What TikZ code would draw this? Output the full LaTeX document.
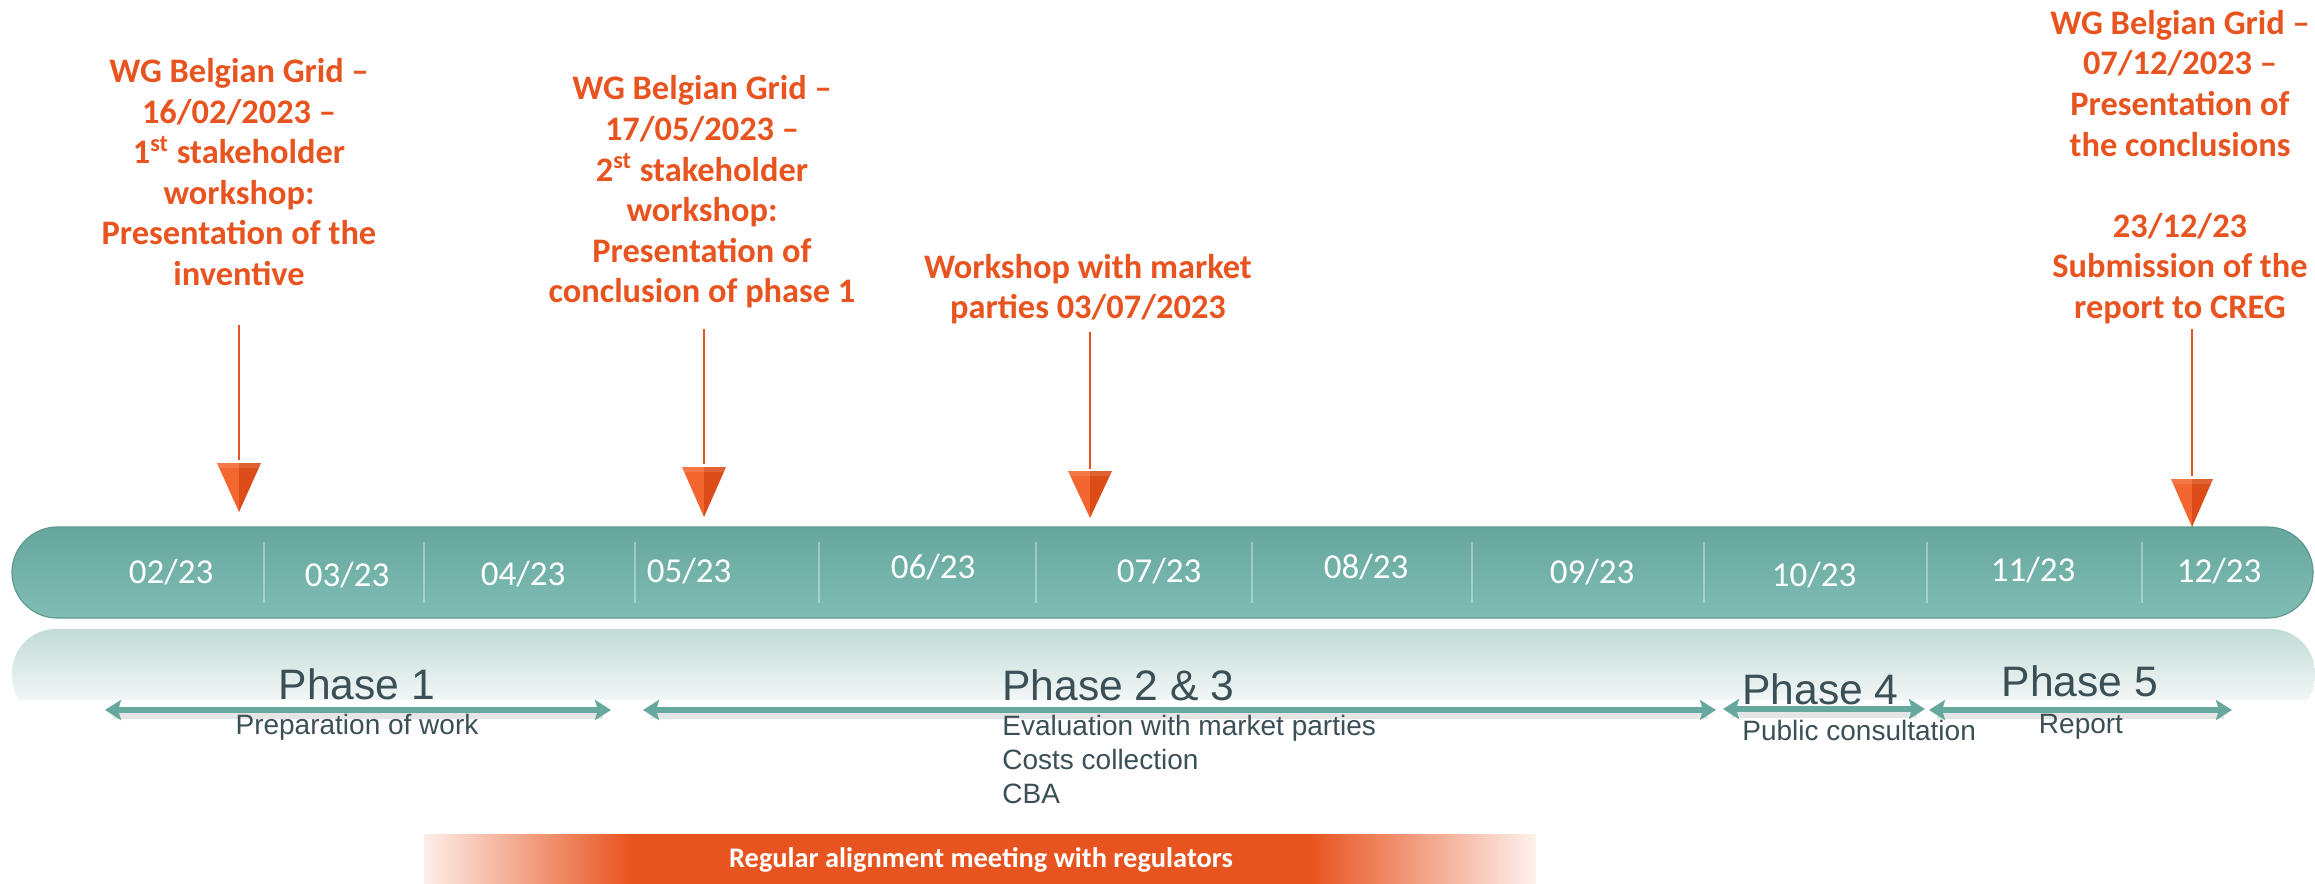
\documentclass[tikz,border=0pt]{standalone}
\usepackage{fontspec}
\setmainfont{Liberation Sans}
\newfontfamily\carlito[Ligatures=TeX]{Carlito}
\usetikzlibrary{arrows.meta}
\definecolor{orng}{HTML}{E8541F}
\definecolor{tealA}{HTML}{66A69C}
\definecolor{tealB}{HTML}{80BEB5}
\definecolor{tealEdge}{HTML}{5E9A90}
\definecolor{phasearrow}{HTML}{66A89E}
\definecolor{slate}{HTML}{3B4F57}
\definecolor{refl}{HTML}{C2DBD7}
\definecolor{triL}{HTML}{F3662F}
\definecolor{triR}{HTML}{DC4C19}
\newcommand\evtriangle[4]{% x, ytop, ytip, halfwidth
  \fill[triL] (#1-#4,#2) -- (#1,#2) -- (#1,#3) -- cycle;
  \fill[triR] (#1,#2) -- (#1+#4,#2) -- (#1,#3) -- cycle;
  \fill[white,opacity=0.12] (#1-#4,#2) -- (#1+#4,#2) -- (#1+#4-3,#2+5) -- (#1-#4+3,#2+5) -- cycle;}
\begin{document}
\begin{tikzpicture}[x=0.5pt,y=-0.5pt,
  evtext/.style={font=\carlito\bfseries\fontsize{17.2}{20.3}\selectfont, text=orng, align=center, inner sep=0pt},
  month/.style={font=\carlito\fontsize{17.5}{20}\selectfont, text=white, inner sep=0pt},
  phasetitle/.style={font=\fontsize{21.3}{25}\selectfont, text=slate, inner sep=0pt, anchor=base},
  phasesub/.style={font=\fontsize{14}{17}\selectfont, text=slate, inner sep=0pt, anchor=base},
  evline/.style={draw=orng, line width=1pt},
  phasearr/.style={draw=phasearrow, line width=3pt, {Stealth[length=8pt,width=10pt,inset=1.5pt]}-{Stealth[length=8pt,width=10pt,inset=1.5pt]}},
  phaseshadow/.style={draw=black, opacity=0.10, line width=4pt},
  divider/.style={draw=white, opacity=0.35, line width=0.6pt},
  bandtext/.style={font=\carlito\bfseries\fontsize{14.2}{16}\selectfont, text=white, inner sep=0pt}]

\useasboundingbox (0,0) rectangle (2315,884);
\fill[white] (0,0) rectangle (2315,884);

% reflection of the bar
\shade[top color=refl, bottom color=white, rounded corners=22pt] (12,720) -- (12,629) -- (2315,629) -- (2315,720) -- cycle;
\fill[white] (0,700) rectangle (2315,725);

% timeline bar
\shade[top color=tealA, bottom color=tealB, rounded corners=22.7pt] (12,527) rectangle (2313,618);
\draw[tealEdge, line width=0.6pt, rounded corners=22.7pt] (12,527) rectangle (2313,618);

% dividers
\foreach \dx in {264,424,635,819,1036,1252,1472,1704,1927,2142}
  \draw[divider] (\dx,542) -- (\dx,603);

% month labels
\node[month] (m02) at (171,572) {02/23};
\node[month] (m03) at (347,575) {03/23};
\node[month] (m04) at (523,574) {04/23};
\node[month] (m05) at (689,571) {05/23};
\node[month] (m06) at (933,567) {06/23};
\node[month] (m07) at (1159,571) {07/23};
\node[month] (m08) at (1366,567) {08/23};
\node[month] (m09) at (1592,572) {09/23};
\node[month] (m10) at (1814,575) {10/23};
\node[month] (m11) at (2033,570) {11/23};
\node[month] (m12) at (2219,571) {12/23};

% events
\node[evtext] (ev1) at (239,172) {WG Belgian Grid \textendash\\16/02/2023 \textendash\\1\textsuperscript{st} stakeholder\\workshop:\\Presentation of the\\inventive};
\node[evtext] (ev2) at (702,192) {WG Belgian Grid \textendash\\17/05/2023 \textendash\\2\textsuperscript{st} stakeholder\\workshop:\\Presentation of\\conclusion of phase 1};
\node[evtext] (ev3) at (1088,289) {Workshop with market\\parties 03/07/2023};
\node[evtext] (ev4) at (2180,167) {WG Belgian Grid \textendash\\07/12/2023 \textendash\\Presentation of\\the conclusions\\~\\23/12/23\\Submission of the\\report to CREG};

\coordinate (s1) at (239,325); \coordinate (t1) at (239,460);
\coordinate (s2) at (704,329); \coordinate (t2) at (704,464);
\coordinate (s3) at (1090,332); \coordinate (t3) at (1090,469);
\coordinate (s4) at (2192,329); \coordinate (t4) at (2192,476);
\draw[evline] (s1) -- (t1);
\draw[evline] (s2) -- (t2);
\draw[evline] (s3) -- (t3);
\draw[evline] (s4) -- (t4);
\evtriangle{239}{463}{512}{22}
\evtriangle{704}{467}{517}{22}
\evtriangle{1090}{471}{518}{22}
\evtriangle{2192}{479}{527}{21}

% phases
\coordinate (p1a) at (105,710); \coordinate (p1b) at (611,710);
\coordinate (p2a) at (643,710); \coordinate (p2b) at (1716,710);
\coordinate (p4a) at (1723,709); \coordinate (p4b) at (1925,709);
\coordinate (p5a) at (1929,710); \coordinate (p5b) at (2232,710);
\foreach \a/\b in {p1a/p1b,p2a/p2b,p4a/p4b,p5a/p5b}
  \draw[phaseshadow] ([xshift=4pt,yshift=-2.5pt]\a) -- ([xshift=-4pt,yshift=-2.5pt]\b);
\draw[phasearr] (p1a) -- (p1b);
\draw[phasearr] (p2a) -- (p2b);
\draw[phasearr] (p4a) -- (p4b);
\draw[phasearr] (p5a) -- (p5b);

\node[phasetitle] (ph1) at (357,699) {Phase 1};
\node[phasesub] (ph1s) at (357,734) {Preparation of work};
\node[phasetitle, anchor=base west] (ph2) at (1002,700) {Phase 2 \& 3};
\node[phasesub, anchor=base west] (ph2a) at (1002,735) {Evaluation with market parties};
\node[phasesub, anchor=base west] (ph2b) at (1002,769) {Costs collection};
\node[phasesub, anchor=base west] (ph2c) at (1002,803) {CBA};
\node[phasetitle, anchor=base west] (ph4) at (1742,704) {Phase 4};
\node[phasesub, anchor=base west] (ph4s) at (1742,740) {Public consultation};
\node[phasetitle] (ph5) at (2080,696) {Phase 5};
\node[phasesub] (ph5s) at (2081,733) {Report};

% regulators band
\shade[left color=orng!10, right color=orng] (424,834) rectangle (631,884);
\fill[orng] (630,834) rectangle (1311,884);
\shade[left color=orng, right color=orng!8] (1310,834) rectangle (1536,884);
\node[bandtext] (band) at (981,860) {Regular alignment meeting with regulators};
\end{tikzpicture}
\end{document}
